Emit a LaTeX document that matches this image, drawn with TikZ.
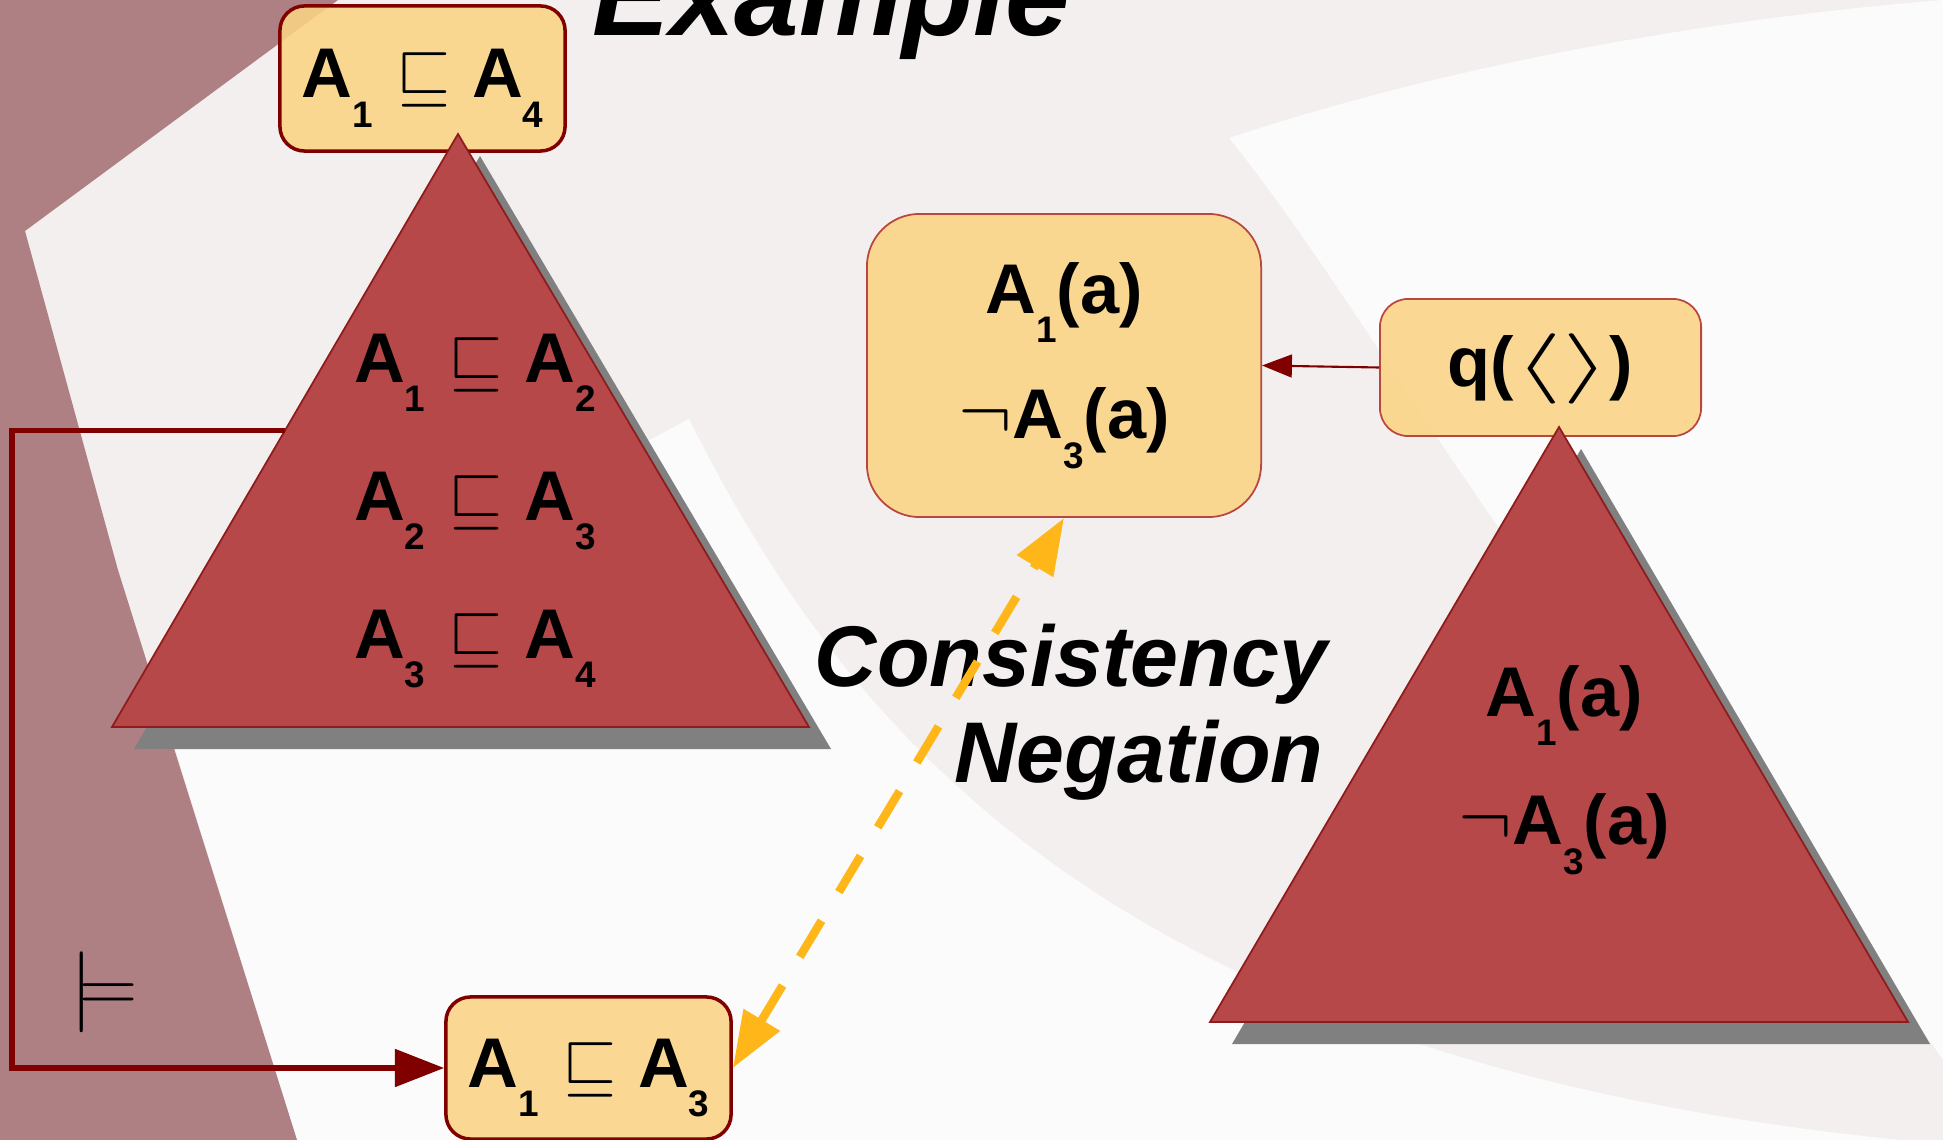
\RequirePackage{fix-cm}
\documentclass[tikz,border=0pt]{standalone}
\usepackage[no-math]{fontspec}
\setmainfont{Liberation Sans}
\usetikzlibrary{arrows.meta, calc}
\definecolor{sbase}{HTML}{F3EFEF}
\definecolor{slight}{HTML}{FCFBFB}
\definecolor{smauve}{HTML}{AE8083}
\definecolor{sbox}{HTML}{FAD485}
\definecolor{stri}{HTML}{B74849}
\definecolor{strid}{HTML}{8E1C1C}
\definecolor{sdark}{HTML}{800000}
\definecolor{sedge}{HTML}{B9463F}
\definecolor{sgold}{HTML}{FFB619}
\definecolor{sshade}{HTML}{808080}
\newcommand{\Ai}[1]{A\raisebox{-0.42em}{\fontsize{10.5}{10}\selectfont #1}}
\newcommand{\sqs}{\hspace{0.33em}$\sqsubseteq$\hspace{0.3em}}
\newcommand{\ang}[1]{\scalebox{1.75}[1]{$#1$}}
\newcommand{\nt}{\scalebox{1.15}{$\neg$}}
\tikzset{
  >=Latex,
  lab/.style={font=\fontsize{20}{24}\selectfont\bfseries, inner sep=0pt, align=center},
  card/.style={
    draw=#1, fill=sbox, fill opacity=0.88, text opacity=1,
    font=\fontsize{20}{24}\selectfont\bfseries, inner sep=0pt
  },
  card/.default=sdark,
  tri/.style={fill=stri, draw=strid, line width=0.5pt},
  tshade/.style={fill=sshade},
  entail/.style={-{Triangle[length=14pt,width=10.5pt]}, line width=1.5pt, draw=sdark},
  thinarr/.style={-{Triangle[length=8.5pt,width=6.5pt]}, line width=0.6pt, draw=sdark},
  dasharr/.style={{Triangle[length=16pt,width=11.5pt]}-{Triangle[length=16pt,width=11.5pt]},
    line width=2.4pt, draw=sgold, dash pattern=on 12pt off 9.5pt},
  big/.style={font=\fontsize{24.5}{29}\selectfont\bfseries\itshape, inner sep=0pt}
}
\begin{document}
\begin{tikzpicture}[x=0.01cm, y=-0.01cm]
  \useasboundingbox (0,0) rectangle (1943,1140);
  \clip (0,0) rectangle (1943,1140);
  % slide background
  \fill[sbase] (0,0) rectangle (1943,1140);
  \fill[slight] (1229,138) .. controls (1450,65) and (1700,20) .. (1943,0) -- (1943,1060)
    .. controls (1800,850) and (1620,700) .. (1529,570) .. controls (1420,420) and (1320,250) .. cycle;
  \fill[slight] (689,419) .. controls (840,720) and (1100,1060) .. (1901,1140)
    -- (297,1140) -- (160,700) -- cycle;
  \fill[smauve] (0,0) -- (338,0) -- (25,231) -- (118,570) -- (297,1140) -- (0,1140) -- cycle;

  \node[big, font=\fontsize{33}{40}\selectfont\bfseries\itshape, anchor=base west] (ttl) at (592,36) {Example};

  \node[card=sdark, line width=1pt, rounded corners=7pt, minimum width=2.85cm,
    minimum height=1.45cm, text height=14pt, text depth=3pt] (top) at (422.5,78.5) {\Ai{1}\sqs\Ai{4}};
  \node[card=sedge, line width=0.5pt, rounded corners=8pt, minimum width=3.21cm,
    minimum height=1.37cm, text height=14pt, text depth=3pt] (q) at (1540.5,367.5)
    {q(\ang{\langle}\ang{\rangle})};

  % theory triangle
  \coordinate (la) at (458,134);
  \coordinate (lb) at (112,727);
  \coordinate (lc) at (809,727);
  \coordinate (lt) at ($(la)!0.5!(lb)$);
  \fill[tshade] ($(la)+(22,22)$) -- ($(lb)+(22,22)$) -- ($(lc)+(22,22)$) -- cycle;
  \filldraw[tri] (la) -- (lb) -- (lc) -- cycle;
  \node[lab, font=\fontsize{20}{39.3}\selectfont\bfseries] (tbox) at (475,511)
    {\Ai{1}\sqs\Ai{2}\\\Ai{2}\sqs\Ai{3}\\\Ai{3}\sqs\Ai{4}};

  % abox triangle
  \coordinate (ra) at (1559,427);
  \coordinate (rb) at (1210,1022);
  \coordinate (rc) at (1908,1022);
  \fill[tshade] ($(ra)+(22,22)$) -- ($(rb)+(22,22)$) -- ($(rc)+(22,22)$) -- cycle;
  \filldraw[tri] (ra) -- (rb) -- (rc) -- cycle;
  \node[lab, font=\fontsize{20}{36.6}\selectfont\bfseries] (abox) at (1564,770)
    {\Ai{1}(a)\\\nt\Ai{3}(a)};

  \node[card=sedge, line width=0.5pt, rounded corners=15pt, minimum width=3.94cm,
    minimum height=3.03cm, align=center, font=\fontsize{20}{35.7}\selectfont\bfseries]
    (mid) at (1064,365.5) {\Ai{1}(a)\\\nt\Ai{3}(a)};
  \node[card=sdark, line width=1pt, rounded corners=7pt, minimum width=2.85cm,
    minimum height=1.42cm, text height=14pt, text depth=3pt] (bot) at (588.5,1068) {\Ai{1}\sqs\Ai{3}};

  \node[font=\fontsize{23}{23}\selectfont, inner sep=0pt] (ent) at (104,992) {$\models$};
  \node[big, anchor=base east] (cons) at (1328,686) {Consistency};
  \node[big, anchor=base east] (neg) at (1324,782) {Negation};

  \draw[entail] (lt) -- ++(-273,0) |- (bot.west);
  \draw[thinarr] (q.west) -- (mid.east);
  \draw[dasharr] (bot.east) -- (mid.south);
\end{tikzpicture}
\end{document}
